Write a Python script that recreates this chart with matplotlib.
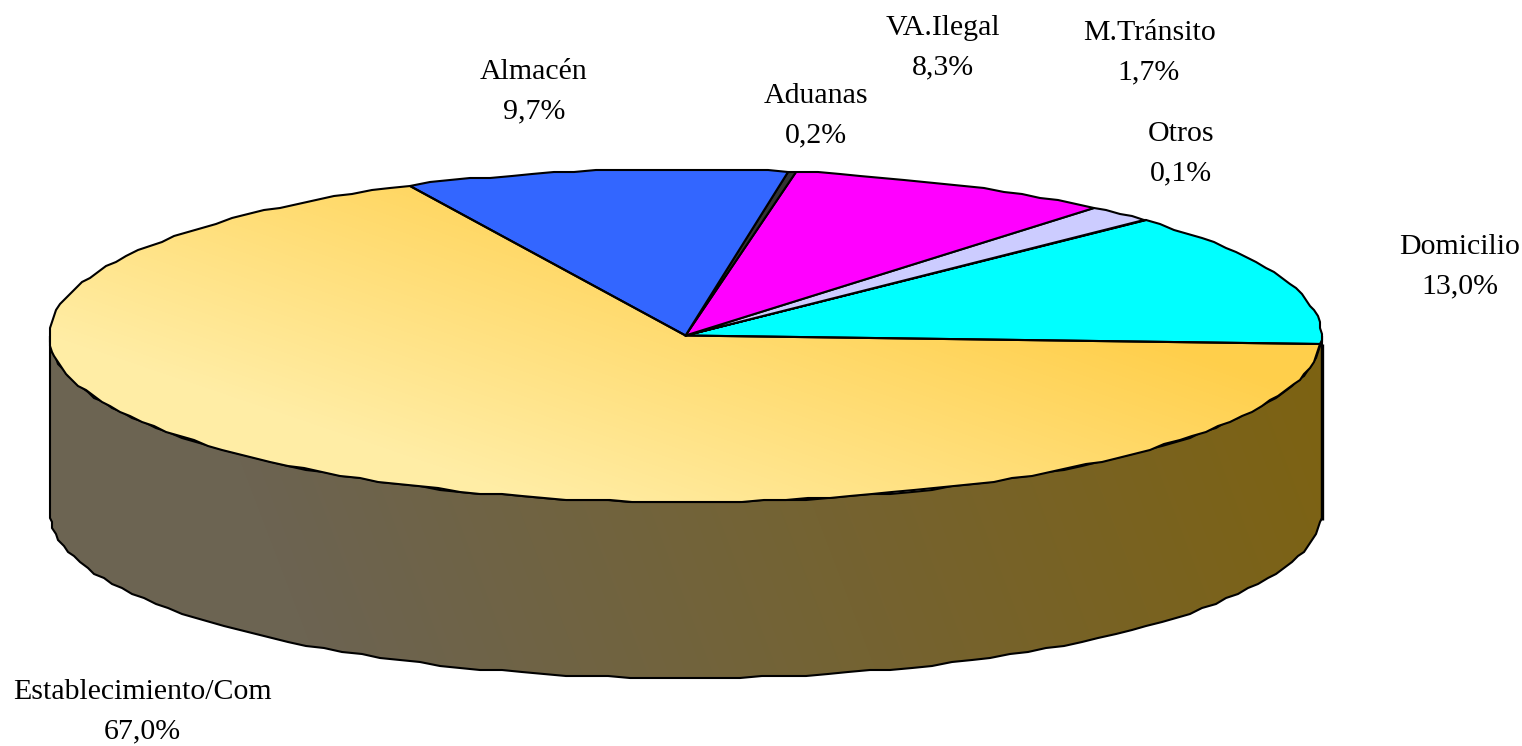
import numpy as np
import matplotlib
matplotlib.use("Agg")
import matplotlib.pyplot as plt
from matplotlib.patches import Polygon, PathPatch
from matplotlib.path import Path

# data (counter-clockwise from the start angle)
categories = ["Domicilio", "Otros", "M.Tránsito", "VA.Ilegal", "Aduanas", "Almacén", "Establecimiento/Com"]
values = [13.0, 0.1, 1.7, 8.3, 0.2, 9.7, 67.0]
colors = ["#00FFFF", "#333399", "#CCCCFF", "#FF00FF", "#333333", "#3366FF", "#FFD966"]
label_x = [1460, 1181, 1149, 943, 816, 534, 142]
label_y = [267, 154, 53, 48, 116, 92, 712]

W, H = 1522, 746
CX, CY, RX, RY, DEPTH = 685.5, 335.5, 636.0, 166.5, 176.0
START = -3.2
STEP, GRID = 2.0, 2.0

fig = plt.figure(figsize=(W / 100, H / 100), dpi=100, facecolor="white")
ax = fig.add_axes([0, 0, 1, 1])
ax.set_xlim(0, W)
ax.set_ylim(H, 0)
ax.axis("off")


def rim(deg):
    d = np.radians(np.asarray(deg, dtype=float))
    x = CX + RX * np.cos(d)
    y = CY - RY * np.sin(d)
    # slight coarse device grid, as in the source rendering
    return np.column_stack([np.round(x / GRID) * GRID, np.round(y / GRID) * GRID])


def arc(a0, a1):
    n = max(2, int(abs(a1 - a0) / STEP) + 2)
    return rim(np.linspace(a0, a1, n))


def gradient(path, c0, c1, p0, p1, z):
    """Linear gradient from c0 at pixel p0 to c1 at pixel p1, clipped to path."""
    xx, yy = np.meshgrid(np.arange(W), np.arange(H))
    dx, dy = p1[0] - p0[0], p1[1] - p0[1]
    t = np.clip(((xx - p0[0]) * dx + (yy - p0[1]) * dy) / (dx * dx + dy * dy), 0, 1)
    img = np.array(c0) + t[..., None] * (np.array(c1) - np.array(c0))
    im = ax.imshow(img / 255.0, extent=(0, W, H, 0), zorder=z, aspect="auto", interpolation="bilinear")
    patch = PathPatch(path, transform=ax.transData, fc="none", ec="none")
    ax.add_patch(patch)
    im.set_clip_path(patch)


ax.set_autoscale_on(False)

# side wall: the visible front half, from the right to the left extreme
front = arc(180, 360)
wall = np.vstack([front, (front + [0, DEPTH])[::-1]])
gradient(Path(np.vstack([wall, wall[:1]])), (125, 98, 18), (108, 100, 82), (1320, 380), (350, 750), 1)
ax.add_patch(Polygon(wall, closed=True, fc="none", ec="black", lw=1.5, zorder=2))
ax.plot([CX + RX + 0.5] * 2, [CY + 8, CY + DEPTH + 8], color="black", lw=2.4, zorder=2, solid_capstyle="butt")

# top slices
fractions = np.array(values) / sum(values)
bounds = START + np.concatenate([[0], np.cumsum(fractions)]) * 360
for name, col, a0, a1 in zip(categories, colors, bounds[:-1], bounds[1:]):
    poly = np.vstack([[CX, CY], arc(a0, a1)])
    if name.startswith("Establecimiento"):
        gradient(Path(np.vstack([poly, poly[:1]])), (255, 207, 75), (255, 237, 165), (1250, 370), (1138, 702), 3)
        ax.add_patch(Polygon(poly, closed=True, fc="none", ec="black", lw=1.5, joinstyle="round", zorder=4))
    else:
        ax.add_patch(Polygon(poly, closed=True, fc=col, ec="black", lw=1.5, joinstyle="round", zorder=4))

# labels
for name, v, x, y in zip(categories, values, label_x, label_y):
    txt = name + "\n" + f"{v:.1f}".replace(".", ",") + "%"
    ax.text(x, y, txt, ha="center", va="center", fontsize=21.5, family="Liberation Serif",
            color="black", linespacing=1.66, zorder=6)

fig.savefig("out.png", dpi=100, facecolor="white")
